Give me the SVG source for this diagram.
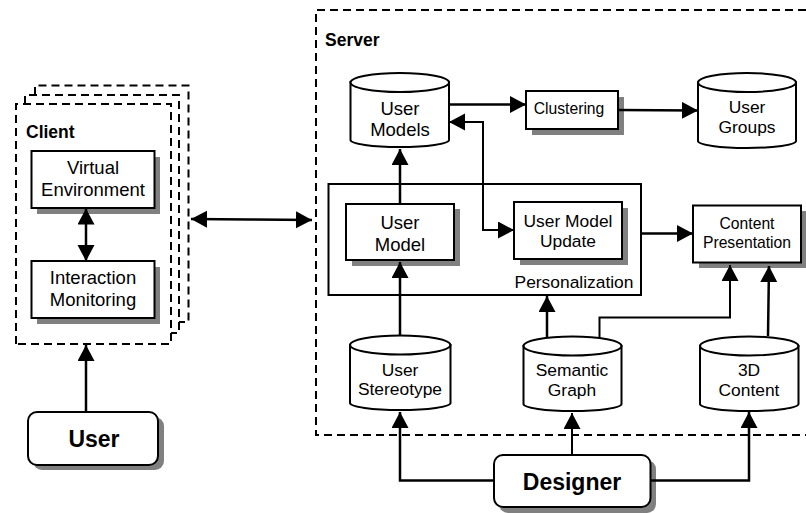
<svg xmlns="http://www.w3.org/2000/svg" width="806" height="513" viewBox="0 0 806 513">
<style>
.dash{fill:none;stroke:#000;stroke-width:2;stroke-dasharray:8 5}
.box{fill:#fff;stroke:#000;stroke-width:2}
.sh{fill:#808080}
.cyl{fill:#fff;stroke:#000;stroke-width:2}
.con{fill:none;stroke:#000;stroke-width:2.5}
.c2{fill:none;stroke:#000;stroke-width:2}
text{font-family:"Liberation Sans",Arial,sans-serif;fill:#000;text-anchor:middle;font-size:17.400px}
.lg{font-size:18.500px}
.sm{font-size:15.700px}
.b{font-weight:bold}
.l{text-anchor:start}
.h1{font-size:17.500px}
.h2{font-size:23px}
</style>
<defs>
<marker id="a" markerUnits="userSpaceOnUse" markerWidth="17" markerHeight="18" refX="16" refY="8.5" orient="auto-start-reverse"><path d="M0 0L16 8.5L0 17Z" fill="#000"/></marker>
</defs>
<rect width="806" height="513" fill="#fff"/>
<g id="client-stack">
<path class="dash" d="M35 95V85.500H188.500V322H179"/>
<path class="dash" d="M25 104V95H179V333H171"/>
<path class="dash" d="M16 344V104H171V344H16Z"/>
<text class="b l h1" x="26" y="138">Client</text>
</g>
<g id="server">
<path class="dash" d="M806 10H316V435H806"/>
<text class="b l h1" x="325" y="46">Server</text>
</g>
<g id="personalization">
<rect class="box" x="328.500" y="184" width="312.500" height="111"/>
<text x="574" y="288">Personalization</text>
</g>
<g id="virtual-environment"><rect class="sh" x="37" y="157" width="123" height="57"/><rect class="box" x="31.500" y="151" width="123" height="57"/><text class="lg" x="93" y="174">Virtual</text><text class="lg" x="93" y="196">Environment</text></g>
<g id="interaction-monitoring"><rect class="sh" x="37" y="267" width="123" height="57"/><rect class="box" x="31.500" y="261" width="123" height="57"/><text class="lg" x="93" y="284">Interaction</text><text class="lg" x="93" y="306">Monitoring</text></g>
<g id="user"><rect class="sh" x="33" y="417" width="131" height="53" rx="9"/><rect class="box" x="28" y="412" width="130" height="53" rx="9"/><text class="b h2" x="94" y="447">User</text></g>
<g id="user-models"><path class="cyl" d="M350.500 82V140A49.250 7 0 0 0 449 140V82Z"/><ellipse class="cyl" cx="399.800" cy="82.500" rx="49.300" ry="9.500"/><text class="lg" x="400" y="115">User</text><text class="lg" x="400" y="136">Models</text></g>
<g id="clustering"><rect class="sh" x="532" y="97" width="92" height="38"/><rect class="box" x="526" y="91" width="92" height="38"/><text class="sm" x="569" y="114">Clustering</text></g>
<g id="user-groups"><path class="cyl" d="M698 82.500V141A49 7 0 0 0 796 141V82.500Z"/><ellipse class="cyl" cx="747" cy="82.500" rx="49" ry="9.500"/><text x="747" y="113">User</text><text x="747" y="133">Groups</text></g>
<g id="user-model"><rect class="sh" x="352" y="209" width="108" height="57"/><rect class="box" x="346" y="204" width="108" height="56"/><text class="lg" x="400" y="229">User</text><text class="lg" x="400" y="251">Model</text></g>
<g id="user-model-update"><rect class="sh" x="520" y="208" width="108" height="57"/><rect class="box" x="514" y="202" width="108" height="57"/><text x="568" y="227">User Model</text><text x="568" y="247">Update</text></g>
<g id="content-presentation"><rect class="sh" x="699" y="211" width="108" height="57"/><rect class="box" x="693" y="205.500" width="108" height="57"/><text class="sm" x="747" y="229">Content</text><text class="sm" x="747" y="248">Presentation</text></g>
<g id="user-stereotype"><path class="cyl" d="M350 345V403A50.250 7 0 0 0 450.500 403V345Z"/><ellipse class="cyl" cx="400.200" cy="345" rx="50.200" ry="9.500"/><text x="400" y="376">User</text><text x="400" y="395">Stereotype</text></g>
<g id="semantic-graph"><path class="cyl" d="M523.500 346V404A49 7 0 0 0 621.500 404V346Z"/><ellipse class="cyl" cx="572.500" cy="346" rx="49" ry="9.500"/><text x="572" y="376">Semantic</text><text x="572" y="396">Graph</text></g>
<g id="content-3d"><path class="cyl" d="M700 346V404A49.250 7 0 0 0 798.500 404V346Z"/><ellipse class="cyl" cx="749.200" cy="346" rx="49.200" ry="9.500"/><text x="749" y="376">3D</text><text x="749" y="396">Content</text></g>
<g id="designer"><rect class="sh" x="499" y="460" width="157" height="53" rx="9"/><rect class="box" x="494" y="455" width="156.500" height="52" rx="9"/><text class="b h2" x="572" y="490">Designer</text></g>
<g id="connectors">
<path class="con" d="M86 235V208.500" marker-end="url(#a)"/>
<path class="con" d="M86 235V261" marker-end="url(#a)"/>
<path class="con" d="M86 412V345" marker-end="url(#a)"/>
<path class="con" d="M250 219.500L191 219" marker-end="url(#a)"/>
<path class="con" d="M250 219.500L312 220" marker-end="url(#a)"/>
<path class="con" d="M449 104.500H526" marker-end="url(#a)"/>
<path class="con" d="M618 110L698 110.500" marker-end="url(#a)"/>
<path class="c2" d="M483 180V122H449" marker-end="url(#a)"/>
<path class="c2" d="M483 180V230H514" marker-end="url(#a)"/>
<path class="con" d="M400 204V149" marker-end="url(#a)"/>
<path class="con" d="M400 335V262" marker-end="url(#a)"/>
<path class="con" d="M641 233.500H693" marker-end="url(#a)"/>
<path class="con" d="M547 337V296" marker-end="url(#a)"/>
<path class="c2" d="M599.500 338V317.500H730V265" marker-end="url(#a)"/>
<path class="con" d="M768 336L769 266" marker-end="url(#a)"/>
<path class="con" d="M494 480.500H400V412" marker-end="url(#a)"/>
<path class="c2" d="M572 455V413" marker-end="url(#a)"/>
<path class="con" d="M650 480.500H749V412" marker-end="url(#a)"/>
</g>
</svg>
